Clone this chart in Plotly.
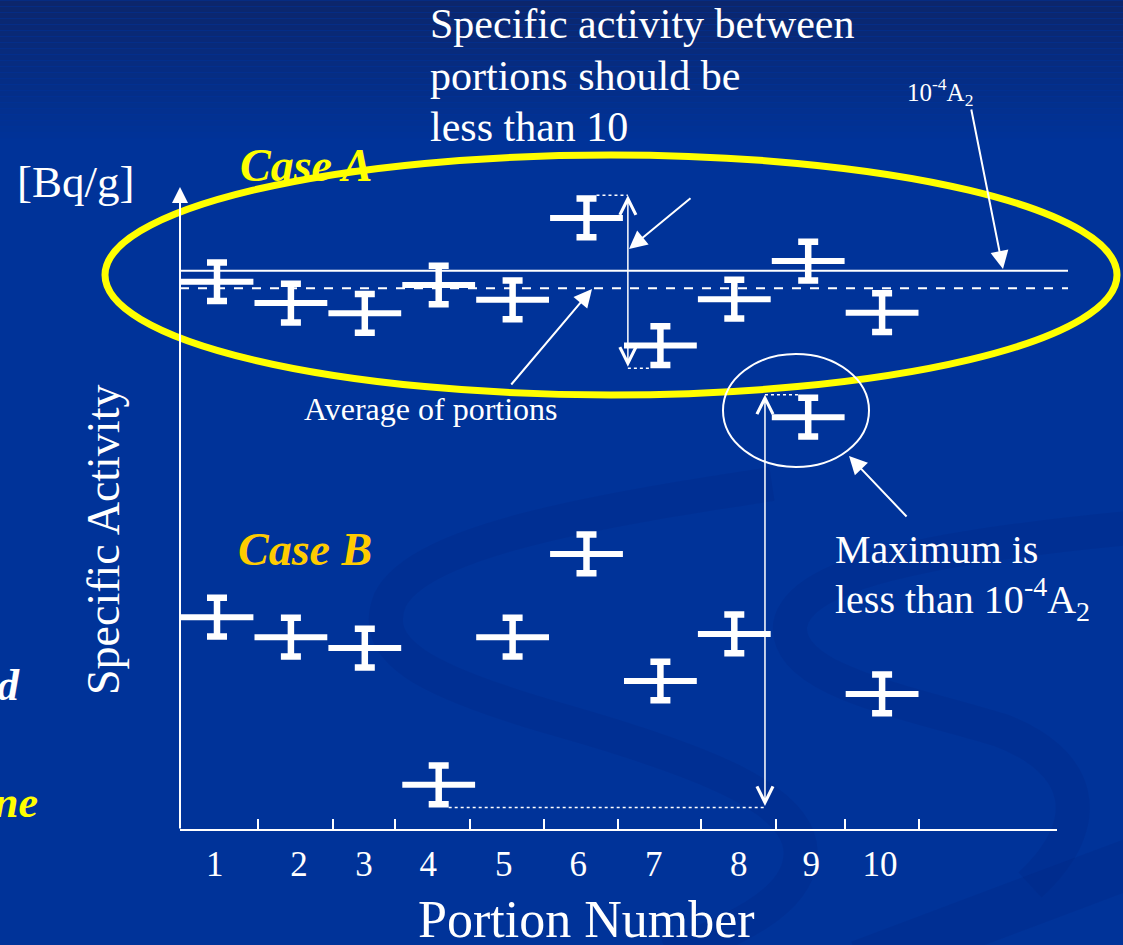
import plotly.graph_objects as go

# ---------------- data ----------------
portions = [1, 2, 3, 4, 5, 6, 7, 8, 9, 10]
case_a = [85.0, 81.7, 80.1, 84.5, 82.2, 94.9, 75.1, 82.3, 88.2, 80.2]
case_b = [33.0, 29.9, 28.2, 7.0, 29.9, 42.8, 23.1, 30.4, 64.0, 21.1]
err_a = [3.0, 3.0, 3.0, 3.0, 3.0, 3.0, 3.0, 3.0, 3.0, 3.0]
err_b = [3.0, 3.0, 3.0, 3.0, 3.0, 3.0, 3.0, 3.0, 3.0, 3.0]
limit_level = 86.7      # 10^-4 A2 line
average_level = 84.0    # average of portions (dashed)
tick_labels = ["1", "2", "3", "4", "5", "6", "7", "8", "9", "10"]
tick_label_x = [0.97, 2.11, 2.99, 3.86, 4.88, 5.89, 6.91, 8.06, 9.04, 9.97]
tick_mark_x = [1.55, 2.57, 3.41, 4.42, 5.43, 6.43, 7.55, 8.56, 9.50, 10.50]

# ---------------- canvas / scale ----------------
W, H = 1123, 945
X_RANGE = [-1.9364, 13.2598]
Y_RANGE = [-17.829, 128.682]
SERIF = "Liberation Serif, Times New Roman, serif"
BG = "#003399"


def px2x(px):
    return X_RANGE[0] + px / W * (X_RANGE[1] - X_RANGE[0])


def py2y(py):
    return Y_RANGE[1] - py / H * (Y_RANGE[1] - Y_RANGE[0])


def pp(px, py):
    return "%.4f,%.4f" % (px / W, 1 - py / H)


fig = go.Figure()

# error-bar markers
for vals, errs in ((case_a, err_a), (case_b, err_b)):
    fig.add_trace(go.Scatter(
        x=portions, y=vals, mode="markers",
        marker=dict(symbol="line-ew", size=52, color="white",
                    line=dict(width=6, color="white")),
        error_y=dict(type="data", array=errs, visible=True, color="white",
                     thickness=6.5, width=10),
        cliponaxis=False, hoverinfo="skip", showlegend=False))

# dummy trace so the tick-mark axis exists
fig.add_trace(go.Scatter(x=[None], y=[None], xaxis="x2", yaxis="y",
                         showlegend=False, hoverinfo="skip"))

shapes = []
# background gradient at the top
N = 24
top_c = (12, 38, 108)
bot_c = (0, 51, 153)
for i in range(N):
    t = i / (N - 1)
    c = tuple(round(top_c[k] + (bot_c[k] - top_c[k]) * t) for k in range(3))
    shapes.append(dict(type="rect", xref="paper", yref="paper", layer="below",
                       x0=0, x1=1, y0=1 - (i + 1) * 6 / H, y1=1 - i * 6 / H - 0.0005,
                       fillcolor="rgb(%d,%d,%d)" % c, line=dict(width=0)))
# subtle background swirls
swirl = "rgba(0,28,105,0.12)"
shapes.append(dict(type="path", xref="paper", yref="paper", layer="below",
                   path="M" + pp(772, 484) + " C" + pp(600, 510) + " " + pp(420, 540) + " " + pp(390, 600)
                   + " C" + pp(370, 650) + " " + pp(420, 680) + " " + pp(560, 720)
                   + " C" + pp(700, 760) + " " + pp(810, 800) + " " + pp(800, 860)
                   + " C" + pp(795, 900) + " " + pp(740, 930) + " " + pp(667, 955),
                   line=dict(color=swirl, width=34)))
shapes.append(dict(type="path", xref="paper", yref="paper", layer="below",
                   path="M" + pp(1130, 528) + " C" + pp(950, 545) + " " + pp(800, 570) + " " + pp(790, 625)
                   + " C" + pp(785, 680) + " " + pp(900, 700) + " " + pp(1000, 730)
                   + " C" + pp(1080, 760) + " " + pp(1100, 820) + " " + pp(1030, 885),
                   line=dict(color=swirl, width=34)))
shapes.append(dict(type="path", xref="paper", yref="paper", layer="below",
                   path="M" + pp(860, 965) + " L" + pp(1140, 860),
                   line=dict(color=swirl, width=50)))

# x axis line
shapes.append(dict(type="line", xref="x", yref="y", x0=px2x(180), x1=px2x(1057), y0=0, y1=0,
                   line=dict(color="white", width=2)))
# limit line and average line
shapes.append(dict(type="line", xref="x", yref="y", x0=px2x(180), x1=px2x(1068),
                   y0=limit_level, y1=limit_level, line=dict(color="white", width=2)))
shapes.append(dict(type="line", xref="x", yref="y", x0=px2x(180), x1=px2x(1068),
                   y0=average_level, y1=average_level, line=dict(color="white", width=2, dash="dash")))

cap_half = 0.135
gap_x = 6.56     # double arrow between portions 6 and 7
max_x = 8.415    # long double arrow
a_top = case_a[5] + err_a[5] + 0.5
a_bot = case_a[6] - err_a[6] - 0.5
b_top = case_b[8] + err_b[8] + 0.5
b_bot = case_b[3] - err_b[3] - 0.5
dot = dict(color="white", width=1.5, dash="dot")
shapes += [
    dict(type="line", xref="x", yref="y", x0=portions[5] + cap_half, x1=gap_x, y0=a_top, y1=a_top, line=dot),
    dict(type="line", xref="x", yref="y", x0=gap_x, x1=portions[6] - cap_half, y0=a_bot, y1=a_bot, line=dot),
    dict(type="line", xref="x", yref="y", x0=max_x, x1=portions[8] - cap_half, y0=b_top, y1=b_top, line=dot),
    dict(type="line", xref="x", yref="y", x0=portions[3] + cap_half, x1=max_x, y0=b_bot, y1=b_bot, line=dot),
]
# ellipses
shapes.append(dict(type="circle", xref="x", yref="y", x0=px2x(105), x1=px2x(1117),
                   y0=py2y(395), y1=py2y(155), line=dict(color="#FFFF00", width=7)))
shapes.append(dict(type="circle", xref="x", yref="y", x0=px2x(723), x1=px2x(869),
                   y0=py2y(467), y1=py2y(354), line=dict(color="white", width=2)))

anns = []


def arrow(x, y, ax, ay, head=2, size=1.8, width=2, double=False):
    d = dict(text="", x=x, y=y, ax=ax, ay=ay, xref="x", yref="y", axref="x", ayref="y",
             showarrow=True, arrowhead=head, arrowsize=size, arrowwidth=width,
             arrowcolor="white", standoff=0, startstandoff=0, font=dict(size=1))
    if double:
        d.update(arrowside="end+start", startarrowhead=head, startarrowsize=size)
    return d


anns.append(arrow(px2x(180), py2y(187), px2x(180), 0, head=2, size=1.6, width=2))
anns.append(arrow(gap_x, a_top, gap_x, a_bot, head=5, size=2.1, width=1.5, double=True))
anns.append(arrow(max_x, b_top, max_x, b_bot, head=5, size=2.1, width=1.5, double=True))
anns.append(arrow(px2x(629), py2y(249), px2x(692), py2y(197)))
anns.append(arrow(px2x(592), py2y(289), px2x(510), py2y(386)))
anns.append(arrow(px2x(1003), py2y(269), px2x(971), py2y(108)))
anns.append(arrow(px2x(849), py2y(456), px2x(908), py2y(518)))


def text(t, px, base, size, color="white", xanchor="left", angle=0):
    return dict(text=t, x=px2x(px), y=py2y(base - 0.34 * size), xref="x", yref="y",
                xanchor=xanchor, yanchor="middle", showarrow=False, textangle=angle,
                font=dict(family=SERIF, size=size, color=color))


anns += [
    text("Specific activity between", 428, 38, 42),
    text("portions should be", 428, 90, 42),
    text("less than 10", 428, 141, 42),
    text("10<sup>-4</sup>A<sub>2</sub>", 905, 100, 25),
    text("[Bq/g]", 15, 197, 45),
    text("<b><i>Case A</i></b>", 238, 181, 46, color="#FFFF00"),
    text("<b><i>Case B</i></b>", 236, 565, 46, color="#FFCC00"),
    text("Average of portions", 302, 420, 32),
    text("Maximum is", 833, 563, 40),
    text("less than 10<sup>-4</sup>A<sub>2</sub>", 833, 613, 40),
    text("Portion Number", 586, 937, 52, xanchor="center"),
    text("<b><i>d</i></b>", 22, 700, 44, xanchor="right"),
    text("<b><i>ne</i></b>", 40, 817, 44, color="#FFFF00", xanchor="right"),
]
anns.append(dict(text="Specific Activity", x=px2x(103), y=py2y(540), xref="x", yref="y",
                 xanchor="center", yanchor="middle", showarrow=False, textangle=-90,
                 font=dict(family=SERIF, size=46, color="white")))

axis_pos = (H - 830) / H
fig.update_layout(
    width=W, height=H,
    margin=dict(l=0, r=0, t=0, b=0, pad=0),
    paper_bgcolor=BG, plot_bgcolor="rgba(0,0,0,0)",
    showlegend=False,
    xaxis=dict(range=X_RANGE, domain=[0, 1], anchor="free", position=axis_pos,
               tickvals=tick_label_x, ticktext=tick_labels, ticks="", ticklabelstandoff=10,
               showgrid=False, zeroline=False, showline=False, fixedrange=True,
               tickfont=dict(family=SERIF, size=35, color="white")),
    xaxis2=dict(range=X_RANGE, overlaying="x", anchor="free", position=axis_pos, side="bottom",
                tickvals=tick_mark_x, ticks="inside", ticklen=11, tickwidth=2, tickcolor="white",
                showticklabels=False, showgrid=False, zeroline=False, showline=False, fixedrange=True),
    yaxis=dict(range=Y_RANGE, domain=[0, 1], visible=False, fixedrange=True),
    shapes=shapes,
    annotations=anns,
)

fig.write_html("out.html", config={"displayModeBar": False},
               post_script="document.body.style.margin='0';document.body.style.overflow='hidden';")
